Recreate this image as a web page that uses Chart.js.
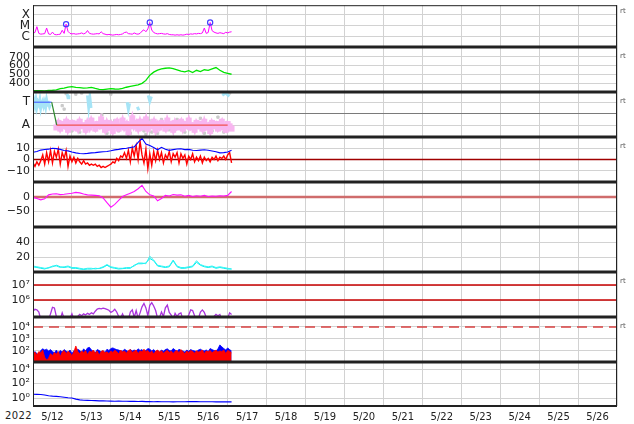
<!DOCTYPE html>
<html>
<head>
<meta charset="utf-8">
<script src="https://cdn.jsdelivr.net/npm/chart.js@4.4.1/dist/chart.umd.min.js"></script>
<style>
  body { margin: 0; background: #fff; }
  #wrap { position: relative; width: 634px; height: 424px; overflow: hidden; font-family: "DejaVu Sans", sans-serif; }
  #wrap canvas { position: absolute; left: 0; }
  .rt { position: absolute; left: 620px; font-size: 7px; line-height: 8px; color: #555; }
  #year { position: absolute; left: 5px; top: 410px; font-size: 10px; line-height: 12px; color: #222; letter-spacing: 0.4px; }
</style>
</head>
<body>
<div id="wrap"><div id="year">2022</div></div>
<script>
// time axis: days since 2022-05-12 00:00 UT
const dayLabels = ['5/12', '5/13', '5/14', '5/15', '5/16', '5/17', '5/18', '5/19',
  '5/20', '5/21', '5/22', '5/23', '5/24', '5/25', '5/26'];
const fine = 0.05;   // sample spacing (days) of the busy series
const coarse = 0.1;  // sample spacing of the smoother series

// X-ray flux, in C-class units (1e-6 W/m2)
const xrayC = [2.2,2.4,8.0,2.0,1.7,1.8,1.9,6.0,1.8,1.6,
  2.6,1.6,1.5,1.6,1.7,3.8,2.0,13.5,3.0,2.0,
  1.8,1.9,1.7,1.8,1.9,2.2,1.8,2.1,3.6,2.0,
  1.8,1.7,1.8,1.9,1.8,2.8,1.9,1.7,1.5,1.6,
  1.5,1.4,1.5,1.6,1.5,1.6,1.8,2.4,2.6,1.9,
  1.8,1.7,2.2,1.8,1.7,2.0,3.2,4.2,2.8,5.0,
  19,4.0,2.4,2.0,1.8,1.9,2.0,1.8,1.7,1.9,
  1.6,1.5,1.5,1.4,1.5,1.4,1.5,1.4,1.5,1.7,
  1.6,1.8,1.7,1.9,1.8,2.0,1.9,2.2,6.0,2.0,
  2.4,19,3.5,2.6,2.2,2.0,2.3,2.1,1.9,2.5,
  2.2,2.6,2.8];
const flareT = [0.85, 3.0, 4.55];
const flareV = [13.5, 19, 19];

// solar wind speed (km/s)
const windSpeed = [314,312,313,311,315,318,322,336,341,353,
  360,351,348,343,346,350,338,328,325,331,
  336,332,330,338,352,361,370,380,396,430,
  490,524,546,560,568,572,565,550,535,528,
  541,520,545,530,551,545,562,576,545,521,
  510,500];

// IMF sector: T = +1, A = -1
const sectorT = [0, 0.48, 0.61, 5.0];
const sectorV = [1, 1, -1, -1];
const towardT = [0,0.025,0.05,0.075,0.1,0.125,0.15,0.175,0.2,0.225,0.25,0.275,0.3,0.325,0.35,0.375,0.4,0.425,0.45,0.46,
  0.88,0.9,0.92,0.93,
  1.40,1.43,1.46,1.49,1.5,
  2.42,2.45,2.48,2.49,
  2.68,2.72,2.73,
  2.96,3.0,3.04,3.05,
  4.86,4.95,5.04];
const towardV = [0.9,1.1,0.7,1.2,0.6,1.0,0.8,1.2,0.5,0.9,1.1,0.7,1.0,0.6,1.2,0.8,0.9,0.6,0.8,null,
  1.7,1.4,1.6,null,
  1.6,0.6,1.4,0.5,null,
  1.0,0.4,0.9,null,
  0.6,0.3,null,
  1.6,1.1,1.5,null,
  1.6,1.8,1.5];
const awayStart = 0.6;
const awayV = [-1.2,-0.8,-1.3,-0.9,-1.1,-0.7,-1.4,-1.0,-0.8,-1.2,
  -0.9,-1.3,-0.7,-1.1,-1.0,-1.4,-0.8,-1.2,-0.6,-1.0,
  -1.3,-0.9,-1.1,-0.5,-1.0,-1.4,-0.8,-1.2,-0.9,-1.5,
  -1.0,-0.7,-1.3,-1.1,-0.6,-1.2,-0.9,-1.6,-1.0,-0.4,
  -1.1,-0.8,-1.3,-0.7,-1.2,-1.0,-0.5,-1.3,-0.9,-1.1,
  -0.7,-1.4,-0.9,-1.2,-0.8,-1.0,-1.3,-0.6,-1.1,-0.9,
  -1.4,-0.8,-1.2,-1.0,-0.7,-1.3,-0.9,-1.1,-0.6,-1.2,
  -1.0,-1.4,-0.8,-1.1,-0.9,-1.3,-0.7,-1.2,-1.0,-1.5,
  -0.8,-1.1,-0.9,-1.3,-1.0,-0.7,-1.2,-1.4,-0.9,-1.1,
  -1.3];
const unsureT = [0.75,0.8,0.85,1.0,1.1,1.2,1.25,1.6,1.77,1.9,2.0,2.1,2.2,2.42,2.5,2.55,2.85,2.9,2.95,2.98,
  3.05,3.2,3.3,3.5,3.7,3.9,4.1,4.3,4.4,4.6,4.75,4.9,5.0,5.05];
const unsureV = [0.7,0.4,1.75,-1.5,1.7,-1.6,1.8,-1.4,-0.1,-1.7,1.7,-0.6,-1.5,-1.4,-1.7,-1.2,-1.5,-1.8,-1.3,-0.6,
  -1.6,-1.7,-0.5,-1.4,-0.5,-1.6,-1.3,-0.4,-1.7,-1.5,-0.3,-1.6,-1.4,1.8];

// IMF (nT)
const bz = [-3,-6,-2,-5,-1,4,-4,6,-2,8,
  -3,7,2,9,-4,6,1,8,-6,3,
  -2,2,-3,1,-2,-4,-1,-4,-3,-5,
  -4,-5,-4,-6,-5,-7,-6,-7,-6,-5,
  -4,-2,-3,1,-1,3,2,6,1,8,
  -2,10,3,12,0,16,4,-3,9,-8,
  5,-5,7,-1,8,0,6,-3,4,1,
  7,-2,5,2,6,-3,5,1,4,-4,
  3,0,5,-2,2,-1,3,-3,2,-1,
  1,-2,2,0,3,-1,2,1,3,0,
  4,6,-3];
const bt = [6.3,7.0,8.2,8.7,9.0,9.8,9.5,8.8,7.8,7.5,
  6.5,5.8,5.2,5.0,5.3,5.8,6.0,6.4,6.8,7.0,
  7.6,8.4,8.8,9.5,9.8,10.5,11.0,15,18.5,13.5,
  12.2,10.5,8.5,10.6,9.0,8.0,8.6,9.2,9.3,8.6,
  8.8,8.0,7.8,8.2,8.5,8.0,7.4,6.8,5.8,6.0,
  6.6,8.0];

// geomagnetic H component deviation (nT)
const hDev = [-1,-5,-10,-6,8,11,12,9,10,12,
  14,17,15,11,8,7,6,5,-3,-20,
  -36,-26,-12,2,8,14,20,30,42,20,
  8,4,-13,-5,6,4,9,7,8,3,
  6,2,5,3,6,2,4,3,5,4,
  6,20];

// proton density, two spacecraft
const density1 = [7,6,5,4,6,7,9,7,6,7, 5,5,4,3.5,4,4,5,4.5,6,9,
  6,5,4,4.5,5,5,9,11,11,12, 18,15,8,7,6,7,15,7,5,5,
  6,7,13,9,7,6,7,5,6,5, 4,4];
const density2 = [8,7,6,5,5,8,8,6,7,8, 6,6,5,4,5,5,4,5,7,10,
  7,6,5,5,6,6,8,12,12,11, 21,16,9,8,7,8,16,8,6,6,
  7,8,15,10,8,7,8,6,7,6, 5,4];

// electron flux, in units of 1e5
const electronE5 = [1.8,2.4,2.2,1.6,0.5,0.5,0.5,0.5,0.5,1.2,
  3.3,3.0,0.8,0.5,0.5,1.4,0.6,0.5,0.5,0.6,
  1.2,0.5,0.6,0.8,1.1,0.9,1.2,1.0,1.3,1.1,
  1.4,1.2,1.8,2.5,2.8,2.6,2.9,2.7,2.4,2.1,
  1.5,1.8,2.4,1.6,0.8,0.6,1.2,0.6,0.5,0.5,
  1.6,2.2,0.7,2.0,0.6,1.4,3.5,6.0,3.0,0.9,
  4.5,6.6,4.0,2.0,0.6,0.7,1.6,0.8,3.0,4.6,
  1.5,1.0,0.5,1.3,0.8,1.2,1.4,0.5,0.5,0.6,
  1.0,2.2,2.0,0.9,0.5,0.6,1.6,2.2,1.5,0.7,
  0.5,0.5,0.6,0.8,1.1,0.9,1.1,0.5,0.5,0.5,
  0.6,1.4,1.1];
const electronLevels = [1e6, 1e7];

// proton flux
const protonRed = [60,80,45,90,70,120,30,18,25,60,
  40,75,55,90,35,80,110,60,95,70,
  40,85,260,90,60,100,75,110,50,95,
  80,120,65,100,45,90,110,70,85,60,
  100,75,115,90,55,120,80,100,65,110,
  130,75,95,120,60,100,85,140,90,110,
  70,100,55,95,120,80,105,65,90,115,
  75,100,60,95,110,70,130,85,60,100,
  75,110,90,65,105,80,95,120,60,100,
  85,110,70,95,115,80,100,90,120,60,
  110,95,70];
const protonBlue = [50,90,60,30,110,150,120,140,100,130,
  90,70,120,60,110,80,130,95,75,120,
  60,105,90,140,110,70,150,100,180,200,
  120,90,70,130,110,80,100,75,140,110,
  160,180,150,130,120,100,95,140,110,85,
  130,100,120,90,150,110,130,85,110,160,
  140,100,130,90,110,80,120,95,130,150,
  110,100,160,120,90,140,110,100,80,120,
  95,130,110,100,90,120,140,110,100,120,
  90,160,130,110,100,150,320,220,160,120,
  180,130,100];
const protonLevel = 1e4;

// bottom panel flux
const lowFlux = [3.3,3.2,3.0,2.6,2.0,1.8,1.7,1.5,1.3,1.1,
  1.0,0.7,0.55,0.5,0.47,0.45,0.43,0.4,0.4,0.38,
  0.37,0.36,0.38,0.35,0.36,0.34,0.35,0.33,0.34,0.32,
  0.33,0.31,0.32,0.30,0.31,0.30,0.29,0.30,0.31,0.30,
  0.32,0.33,0.32,0.31,0.30,0.31,0.30,0.29,0.30,0.29,
  0.30,0.29];

// ---- helpers ----
Chart.defaults.font.family = 'DejaVu Sans';
const series = (vals, step, t0 = 0, k = 1) => vals.map((v, i) => ({ x: t0 + i * step, y: v === null ? null : v * k }));
const pairs = (ts, vs) => ts.map((t, i) => ({ x: t, y: vs[i] }));
const hline = (v, color, width, dash) => ({ data: [{ x: 0, y: v }, { x: 15, y: v }], borderColor: color, borderWidth: width, borderDash: dash || [] });
const line = (data, color, width) => ({ data, borderColor: color, borderWidth: width || 1 });

const frame = {
  id: 'frame',
  afterDraw(chart, args, o) {
    const { ctx, chartArea: a } = chart;
    ctx.save();
    ctx.strokeStyle = '#222';
    ctx.lineWidth = 1;
    ctx.beginPath();
    ctx.moveTo(a.left + 0.5, a.top); ctx.lineTo(a.left + 0.5, a.bottom);
    ctx.moveTo(a.right - 0.5, a.top); ctx.lineTo(a.right - 0.5, a.bottom);
    ctx.stroke();
    ctx.lineWidth = o.top;
    const ty = o.top === 1 ? a.top + 0.5 : a.top;
    ctx.beginPath(); ctx.moveTo(a.left, ty); ctx.lineTo(a.right, ty); ctx.stroke();
    if (o.bottom) {
      ctx.lineWidth = o.bottom;
      ctx.beginPath(); ctx.moveTo(a.left, a.bottom); ctx.lineTo(a.right, a.bottom); ctx.stroke();
    }
    ctx.restore();
  }
};

const wrap = document.getElementById('wrap');
const edges = [2, 47, 92, 137, 182, 227, 272, 317, 362, 406];
const days = Array.from({ length: 16 }, (_, i) => i);
const halfDays = Array.from({ length: 31 }, (_, i) => i / 2);

function panel(i, cfg) {
  const top = edges[i], bottom = edges[i + 1];
  const isLast = i === edges.length - 2;
  const padTop = Math.min(8, top);
  const padBottom = isLast ? 0 : 8;
  const xAxisH = isLast ? 424 - bottom : 0;
  const canvas = document.createElement('canvas');
  canvas.width = 634;
  canvas.height = padTop + (bottom - top) + padBottom + xAxisH;
  canvas.style.top = (top - padTop) + 'px';
  wrap.appendChild(canvas);
  if (cfg.rt) {
    const s = document.createElement('div');
    s.className = 'rt'; s.textContent = 'rt'; s.style.top = (top + 5) + 'px';
    wrap.appendChild(s);
  }
  const n = cfg.datasets.length;
  cfg.datasets.forEach((d, k) => { d.order = n - k; d.fill = d.fill || false; });
  new Chart(canvas, {
    type: 'line',
    data: { datasets: cfg.datasets },
    options: {
      responsive: false, animation: false, events: [],
      layout: { padding: { left: 0, right: 17, top: padTop, bottom: padBottom } },
      plugins: { legend: { display: false }, tooltip: { enabled: false },
        frame: { top: i === 0 ? 1 : 3, bottom: isLast ? 2 : 0 } },
      elements: { point: { radius: 0 }, line: { tension: 0 } },
      scales: {
        x: {
          type: 'linear', min: 0, max: 15, bounds: 'data',
          afterBuildTicks: s => { s.ticks = (isLast ? halfDays : days).map(v => ({ value: v })); },
          afterFit: s => { s.height = xAxisH; s.paddingLeft = 0; s.paddingRight = 0; },
          grid: { color: c => (c.tick && c.tick.value % 1 === 0) ? '#d2d2d2' : 'rgba(0,0,0,0)', drawTicks: false },
          border: { display: false },
          ticks: { display: isLast, autoSkip: false, maxRotation: 0, padding: 5, color: '#222',
            font: { size: 10 }, callback: v => (v % 1 === 0.5) ? dayLabels[Math.floor(v)] : '' }
        },
        y: {
          type: cfg.type || 'linear', min: cfg.min, max: cfg.max, bounds: 'data',
          afterBuildTicks: s => { s.ticks = cfg.ticks.map(v => ({ value: v })); },
          afterFit: s => { s.width = 33; s.paddingTop = 0; s.paddingBottom = 0; },
          grid: { color: cfg.gridColor || '#d2d2d2', drawTicks: false },
          border: { display: false },
          ticks: { autoSkip: false, padding: 3, color: '#222', font: { size: cfg.fontSize || 11 },
            callback: (v, idx) => cfg.labels[idx] }
        }
      }
    },
    plugins: [frame]
  });
}

// 1: X-ray
panel(0, {
  type: 'logarithmic', min: 0.12, max: 676, ticks: [1, 10, 100], labels: ['C', 'M', 'X'], fontSize: 12, rt: true,
  datasets: [
    line(series(xrayC, fine), '#ff00ff', 1),
    { data: pairs(flareT, flareV), showLine: false, pointRadius: 2.6, pointBorderWidth: 1.2,
      pointBorderColor: '#4040ff', pointBackgroundColor: 'rgba(0,0,0,0)' }
  ]
});

// 2: solar wind speed
panel(1, {
  min: 298, max: 810, ticks: [400, 500, 600, 700], labels: ['400', '500', '600', '700'], rt: true,
  datasets: [ line(series(windSpeed, coarse), '#00e400', 1.3) ]
});

// 3: sector
panel(2, {
  min: -2.03, max: 1.89, ticks: [-1, 0, 1], labels: ['A', '', 'T'], fontSize: 12, rt: true,
  gridColor: c => (c.tick && c.tick.value === 0) ? '#7a7a7a' : '#d2d2d2',
  datasets: [
    { data: pairs(unsureT, unsureV), showLine: false, pointRadius: 1.6, pointStyle: 'rect',
      pointBackgroundColor: '#cacaca', pointBorderColor: '#cacaca' },
    { data: series(awayV, fine, awayStart), borderColor: '#f8b6f0', borderWidth: 4,
      pointRadius: 1.4, pointStyle: 'rect', pointBackgroundColor: '#f8b6f0', pointBorderColor: '#f8b6f0' },
    { data: pairs(towardT, towardV), borderColor: '#a6e4f6', borderWidth: 3 },
    { data: pairs(sectorT, sectorV), borderWidth: 1.2, borderColor: '#f05050',
      segment: { borderColor: c => ['#4a68ff', '#2e8b2e', '#f05050'][c.p0DataIndex] } }
  ]
});

// 4: IMF
panel(3, {
  min: -19.6, max: 19.6, ticks: [-10, 0, 10], labels: ['\u221210', '0', '10'], rt: true,
  datasets: [
    hline(0, '#a00000', 1.5),
    line(series(bz, fine), '#ff0000', 1.4),
    line(series(bt, coarse), '#0000ff', 1.1)
  ]
});

// 5: magnetometer
panel(4, {
  min: -107, max: 54, ticks: [-50, 0], labels: ['\u221250', '0'],
  datasets: [
    hline(0, '#cf6c6c', 2.5),
    line(series(hDev, coarse), '#ff10ff', 1.1)
  ]
});

// 6: density
panel(5, {
  min: 0, max: 60, ticks: [20, 40], labels: ['20', '40'],
  datasets: [
    line(series(density1, coarse), '#00eeee', 1),
    line(series(density2, coarse), '#30f4f4', 1)
  ]
});

// 7: electrons
panel(6, {
  type: 'logarithmic', min: 7.4e4, max: 7.4e7, ticks: [1e6, 1e7], labels: ['10\u2076', '10\u2077'], rt: true,
  datasets: [
    hline(electronLevels[0], '#c80000', 1.4),
    hline(electronLevels[1], '#c80000', 1.4),
    line(series(electronE5, fine, 0, 1e5), '#aa33dd', 1.3)
  ]
});

// 8: protons
panel(7, {
  type: 'logarithmic', min: 12, max: 6.8e4, ticks: [1e2, 1e3, 1e4], labels: ['10\u00b2', '10\u00b3', '10\u2074'], rt: true,
  datasets: [
    hline(protonLevel, '#d84040', 1.5, [10, 6]),
    { data: series(protonBlue, fine), borderColor: '#0000ff', borderWidth: 0.8, fill: 'start', backgroundColor: '#0000ff' },
    { data: series(protonRed, fine), borderColor: '#ff0000', borderWidth: 0.8, fill: 'start', backgroundColor: '#ff0000' }
  ]
});

// 9: bottom flux
panel(8, {
  type: 'logarithmic', min: 0.079, max: 9.3e4, ticks: [1, 1e2, 1e4], labels: ['10\u2070', '10\u00b2', '10\u2074'],
  datasets: [ line(series(lowFlux, coarse), '#0000ff', 1.1) ]
});
</script>
</body>
</html>
